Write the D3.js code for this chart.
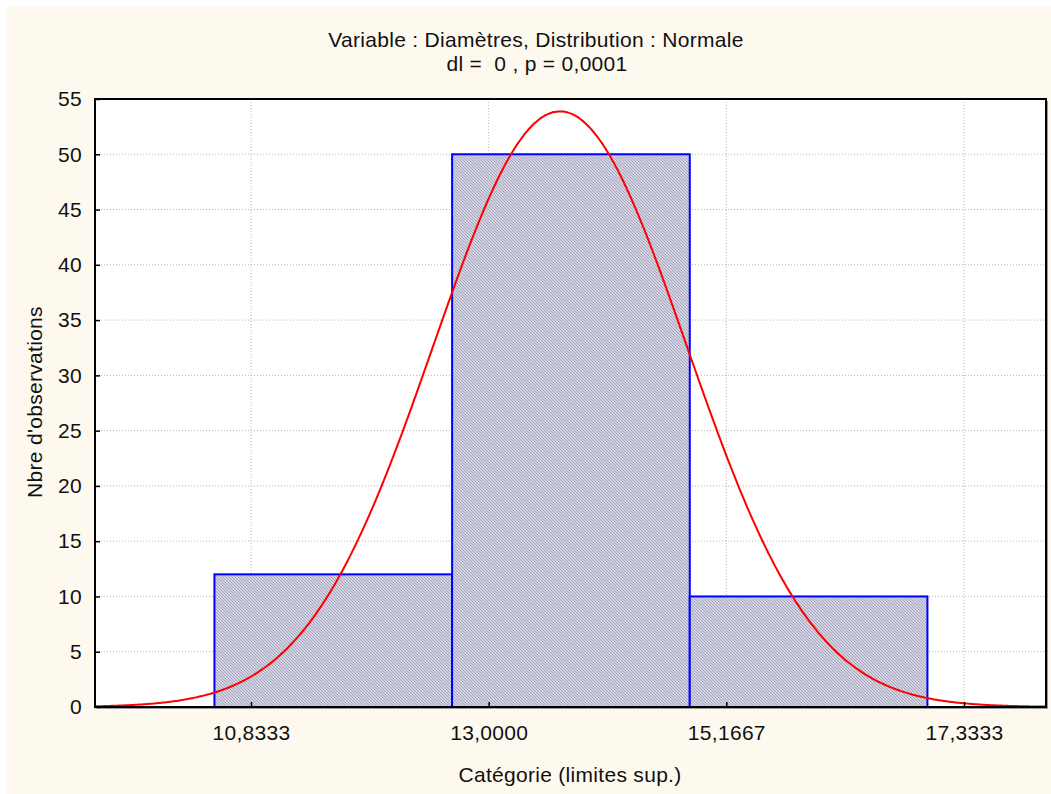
<!DOCTYPE html>
<html><head><meta charset="utf-8">
<script src="https://cdn.jsdelivr.net/npm/d3@7"></script>
<style>body{margin:0;background:#fff}svg{display:block}text{font-family:"Liberation Sans",Arial,sans-serif;fill:#111;white-space:pre}</style>
</head><body><svg id="c" width="1051" height="794"></svg>
<script>
// Data
const binEdges = [10.5, 12.6667, 14.8333, 17.0];
const binCounts = [12, 50, 10];
const xTickValues = [10.8333, 13.0, 15.1667, 17.3333];
const xTickLabels = ["10,8333", "13,0000", "15,1667", "17,3333"];
const yTickValues = [0, 5, 10, 15, 20, 25, 30, 35, 40, 45, 50, 55];
const fitMean = 13.65;
const fitSd = 1.155;
const nObs = 72;
const binWidth = 2.16667;
const titleLines = ["Variable : Diamètres, Distribution : Normale", "dl =  0 , p = 0,0001"];
const xLabel = "Catégorie (limites sup.)";
const yLabel = "Nbre d'observations";

const FS = 21, LS = 0.3;
const svg = d3.select("#c");
const L = 95, T = 99, R = 1046, B = 707;
const x = d3.scaleLinear().domain([9.411, 18.081]).range([L, R]);
const y = d3.scaleLinear().domain([0, 55]).range([B, T]);

svg.append("rect").attr("x", 7).attr("y", 7).attr("width", 1044).attr("height", 787).attr("fill", "#fef9ef");

const defs = svg.append("defs");
const pat = defs.append("pattern").attr("id", "hatch").attr("patternUnits", "userSpaceOnUse").attr("width", 3).attr("height", 3);
pat.append("rect").attr("width", 3).attr("height", 3).attr("fill", "#d2d2e0");
pat.append("path").attr("d", "M0,0 L3,3 M-1,2 L1,4 M2,-1 L4,1").attr("stroke", "#a0a0bc").attr("stroke-width", 0.9);
defs.append("clipPath").attr("id", "clip").append("rect").attr("x", L).attr("y", T).attr("width", R - L).attr("height", B - T);

// shadow + plot area
svg.append("rect").attr("x", L + 2).attr("y", T + 2).attr("width", R - L).attr("height", B - T).attr("fill", "#9a9a9a");
svg.append("rect").attr("x", L).attr("y", T).attr("width", R - L).attr("height", B - T).attr("fill", "#fff");

// grid
const g = svg.append("g");
g.selectAll("line.hy").data(yTickValues.filter(v => v > 0 && v < 55)).join("line")
  .attr("x1", L).attr("x2", R).attr("y1", d => y(d)).attr("y2", d => y(d))
  .attr("stroke", "#b4b4b4").attr("stroke-width", 1).attr("stroke-dasharray", "1,2");
g.selectAll("line.vx").data(xTickValues).join("line")
  .attr("x1", d => x(d)).attr("x2", d => x(d)).attr("y1", T).attr("y2", B)
  .attr("stroke", "#b4b4b4").attr("stroke-width", 1).attr("stroke-dasharray", "1,2");

// bars
const bins = binCounts.map((c, i) => ({x0: binEdges[i], x1: binEdges[i + 1], c}));
svg.append("g").selectAll("rect").data(bins).join("rect")
  .attr("x", d => x(d.x0)).attr("y", d => y(d.c))
  .attr("width", d => x(d.x1) - x(d.x0)).attr("height", d => y(0) - y(d.c))
  .attr("fill", "url(#hatch)").attr("stroke", "#0000ff").attr("stroke-width", 2);

// fitted normal curve
const xs = d3.range(0, 401).map(i => 9.411 + i * (18.081 - 9.411) / 400);
const dens = v => nObs * binWidth / (fitSd * Math.sqrt(2 * Math.PI)) * Math.exp(-0.5 * ((v - fitMean) / fitSd) ** 2);
svg.append("path").datum(xs).attr("clip-path", "url(#clip)")
  .attr("d", d3.line().x(d => x(d)).y(d => y(dens(d))).curve(d3.curveBasis))
  .attr("fill", "none").attr("stroke", "#ff0000").attr("stroke-width", 2);

// frame
svg.append("rect").attr("x", L).attr("y", T).attr("width", R - L).attr("height", B - T)
  .attr("fill", "none").attr("stroke", "#000").attr("stroke-width", 2);

// axes
const yAxis = d3.axisLeft(y).tickValues(yTickValues).tickSize(-5).tickPadding(13).tickFormat(d3.format("d"));
const ya = svg.append("g").attr("transform", `translate(${L},0)`).call(yAxis);
ya.select(".domain").remove();
ya.selectAll("line").attr("stroke", "#000").attr("stroke-width", 1.5);
ya.selectAll("text").attr("font-size", FS).attr("letter-spacing", LS).attr("fill", "#111").style("font-family", "Liberation Sans, Arial, sans-serif");

const xAxis = d3.axisBottom(x).tickValues(xTickValues).tickSize(-5).tickPadding(18).tickFormat((d, i) => xTickLabels[i]);
const xa = svg.append("g").attr("transform", `translate(0,${B})`).call(xAxis);
xa.select(".domain").remove();
xa.selectAll("line").attr("stroke", "#000").attr("stroke-width", 1.5);
xa.selectAll("text").attr("font-size", FS).attr("letter-spacing", LS).attr("fill", "#111").style("font-family", "Liberation Sans, Arial, sans-serif");

// titles
const txt = (xx, yy, s) => svg.append("text").attr("x", xx).attr("y", yy).attr("text-anchor", "middle")
  .attr("font-size", FS).attr("letter-spacing", LS).text(s);
txt(536, 47, titleLines[0]);
txt(537, 71, titleLines[1]);
txt(570, 782, xLabel);
svg.append("text").attr("transform", "translate(42,402) rotate(-90)").attr("text-anchor", "middle")
  .attr("font-size", FS).attr("letter-spacing", LS).text(yLabel);
</script></body></html>
